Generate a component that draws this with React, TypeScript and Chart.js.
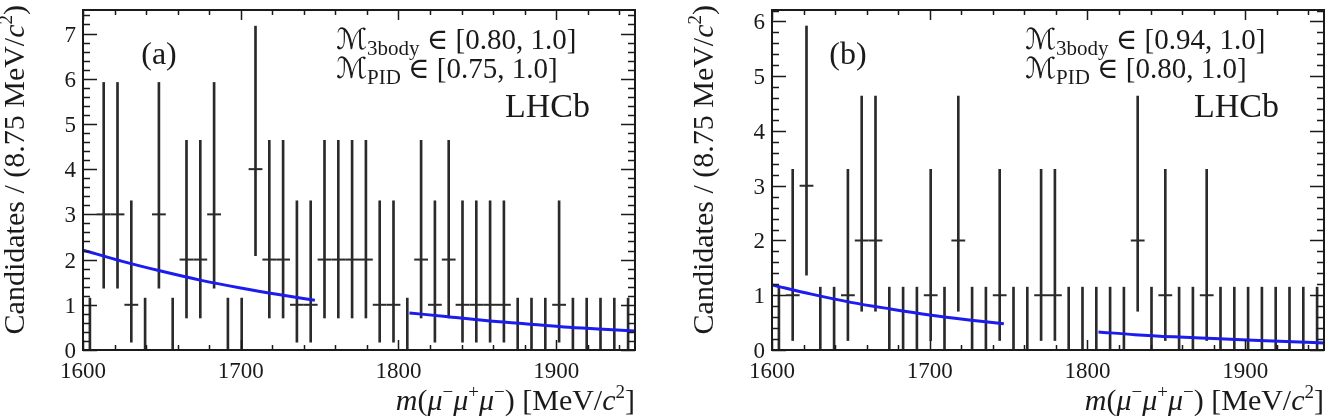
import { useEffect, useRef } from "react";
import { Chart, registerables } from "chart.js";

Chart.register(...registerables);

// Mass window and binning (MeV/c^2)
const MASS_MIN = 1600;
const MASS_MAX = 1950;
const BIN_WIDTH = 8.75;
const X_MINOR_STEP = 20;
const X_MAJOR_STEP = 100;
const Y_MINOR_PER_UNIT = 5;

// Candidates per 8.75 MeV/c^2 bin, first bin starting at 1600 MeV/c^2
const COUNTS_A = [0, 3, 3, 1, 0, 3, 0, 2, 2, 3, 0, 0, 4, 2, 2, 1, 1, 2, 2, 2, 2, 1, 1, 0, 2, 1, 2, 1, 1, 1, 1, 0, 0, 0, 1, 0, 0, 0, 0, 0];
const COUNTS_B = [0, 1, 3, 0, 0, 1, 2, 2, 0, 0, 0, 1, 0, 2, 0, 0, 1, 0, 0, 1, 1, 0, 0, 0, 0, 0, 2, 0, 1, 0, 0, 1, 0, 0, 0, 0, 0, 0, 0, 0];

// Asymmetric Poisson 68% errors, indexed by the bin count
const POISSON_ERR_LOW = [0, 0.827, 1.292, 1.633, 1.914];
const POISSON_ERR_HIGH = [1.148, 2.3, 2.638, 2.918, 3.163];

// Background fit in the two sidebands
const FIT_MASS_LEFT = [1600, 1625, 1650, 1675, 1700, 1725, 1747];
const FIT_MASS_RIGHT = [1807, 1830, 1855, 1880, 1905, 1930, 1950];
const FIT_A_LEFT = [2.21, 1.96, 1.74, 1.54, 1.37, 1.22, 1.1];
const FIT_A_RIGHT = [0.82, 0.74, 0.65, 0.58, 0.51, 0.46, 0.42];
const FIT_B_LEFT = [1.19, 1.02, 0.87, 0.75, 0.64, 0.55, 0.48];
const FIT_B_RIGHT = [0.33, 0.28, 0.24, 0.21, 0.18, 0.15, 0.13];

// Axis labels
const X_TICK_LABELS = ["1600", "1700", "1800", "1900"];
const Y_TICK_LABELS_A = ["0", "1", "2", "3", "4", "5", "6", "7"];
const Y_TICK_LABELS_B = ["0", "1", "2", "3", "4", "5", "6"];
const Y_MAX_A = 7.52;
const Y_MAX_B = 6.21;

const INK = "#1a1a1a";
const BAR_INK = "#2a2a2a";
const FIT_BLUE = "rgb(28, 28, 238)";
const SERIF = '"Liberation Serif", "Times New Roman", "DejaVu Serif", serif';
const MATH = '"Liberation Serif", "DejaVu Serif", "DejaVu Sans", serif';

const CANVAS_W = 666;
const CANVAS_H = 417;

type Run = { text: string; size: number; italic?: boolean; dy?: number; family?: string };

function runFont(r: Run) {
  return `${r.italic ? "italic " : ""}${r.size}px ${r.family ?? SERIF}`;
}

function runsWidth(ctx: CanvasRenderingContext2D, runs: Run[]) {
  let w = 0;
  for (const r of runs) {
    ctx.font = runFont(r);
    w += ctx.measureText(r.text).width;
  }
  return w;
}

function drawRuns(ctx: CanvasRenderingContext2D, runs: Run[], x: number, y: number, align: "left" | "right") {
  let cx = align === "right" ? x - runsWidth(ctx, runs) : x;
  ctx.textAlign = "left";
  ctx.textBaseline = "alphabetic";
  for (const r of runs) {
    ctx.font = runFont(r);
    ctx.fillText(r.text, cx, y + (r.dy ?? 0));
    cx += ctx.measureText(r.text).width;
  }
}

const TITLE = 30;
const SUP = 19;

const X_TITLE: Run[] = [
  { text: "m", size: TITLE, italic: true },
  { text: "(", size: TITLE },
  { text: "μ", size: TITLE, italic: true },
  { text: "−", size: SUP, dy: -12 },
  { text: "μ", size: TITLE, italic: true },
  { text: "+", size: SUP, dy: -12 },
  { text: "μ", size: TITLE, italic: true },
  { text: "−", size: SUP, dy: -12 },
  { text: ") [MeV/", size: TITLE },
  { text: "c", size: TITLE, italic: true },
  { text: "2", size: SUP, dy: -12 },
  { text: "]", size: TITLE },
];

const Y_TITLE: Run[] = [
  { text: "Candidates / (8.75 MeV/", size: TITLE },
  { text: "c", size: TITLE, italic: true },
  { text: "2", size: SUP, dy: -12 },
  { text: ")", size: TITLE },
];

function selectionRuns(sub: string, range: string): Run[] {
  return [
    { text: "ℳ", size: 29, family: MATH },
    { text: sub, size: 21, dy: 6 },
    { text: " ∈ " + range, size: 29, family: MATH },
  ];
}

type PanelSpec = {
  tag: string;
  counts: number[];
  yMax: number;
  yLabels: string[];
  fitLeft: number[];
  fitRight: number[];
  cut3body: string;
  cutPid: string;
  pad: { left: number; right: number; top: number; bottom: number };
  offsetX: number;
};

const PANELS: PanelSpec[] = [
  {
    tag: "(a)",
    counts: COUNTS_A,
    yMax: Y_MAX_A,
    yLabels: Y_TICK_LABELS_A,
    fitLeft: FIT_A_LEFT,
    fitRight: FIT_A_RIGHT,
    cut3body: "[0.80, 1.0]",
    cutPid: "[0.75, 1.0]",
    pad: { left: 83, right: CANVAS_W - 635, top: 10, bottom: CANVAS_H - 350 },
    offsetX: 0,
  },
  {
    tag: "(b)",
    counts: COUNTS_B,
    yMax: Y_MAX_B,
    yLabels: Y_TICK_LABELS_B,
    fitLeft: FIT_B_LEFT,
    fitRight: FIT_B_RIGHT,
    cut3body: "[0.94, 1.0]",
    cutPid: "[0.80, 1.0]",
    pad: { left: 106, right: CANVAS_W - 658, top: 10, bottom: CANVAS_H - 350 },
    offsetX: 666,
  },
];

// Frame with inward ticks on all four sides, tick labels, titles and annotations
const hepFrame = {
  id: "hepFrame",
  afterDatasetsDraw(chart: any, _args: any, opts: any) {
    const spec: PanelSpec = opts.spec;
    const ctx: CanvasRenderingContext2D = chart.ctx;
    const { left, right, top, bottom } = chart.chartArea;
    const xs = chart.scales.x;
    const ys = chart.scales.y;
    ctx.save();
    ctx.strokeStyle = INK;
    ctx.fillStyle = INK;

    // ticks
    ctx.lineWidth = 1.5;
    ctx.beginPath();
    for (let m = MASS_MIN; m <= MASS_MAX; m += X_MINOR_STEP) {
      const px = Math.round(xs.getPixelForValue(m)) + 0.5;
      const len = (m - MASS_MIN) % X_MAJOR_STEP === 0 ? 10 : 5;
      ctx.moveTo(px, bottom);
      ctx.lineTo(px, bottom - len);
      ctx.moveTo(px, top);
      ctx.lineTo(px, top + len);
    }
    for (let k = 0; k / Y_MINOR_PER_UNIT <= spec.yMax; k++) {
      const py = Math.round(ys.getPixelForValue(k / Y_MINOR_PER_UNIT)) + 0.5;
      const len = k % Y_MINOR_PER_UNIT === 0 ? 14 : 7;
      ctx.moveTo(left, py);
      ctx.lineTo(left + len, py);
      ctx.moveTo(right, py);
      ctx.lineTo(right - len, py);
    }
    ctx.stroke();

    // frame
    ctx.lineWidth = 2;
    ctx.strokeRect(left, top, right - left, bottom - top);

    // tick labels
    ctx.font = `23px ${SERIF}`;
    ctx.textAlign = "right";
    ctx.textBaseline = "alphabetic";
    spec.yLabels.forEach((lab) => {
      const py = ys.getPixelForValue(Number(lab));
      ctx.fillText(lab, left - 7, py + 8);
    });
    ctx.textAlign = "center";
    X_TICK_LABELS.forEach((lab) => {
      ctx.fillText(lab, xs.getPixelForValue(Number(lab)), 378);
    });

    // axis titles
    drawRuns(ctx, X_TITLE, right, 410, "right");
    ctx.save();
    ctx.translate(left - 59, top - 5);
    ctx.rotate(-Math.PI / 2);
    drawRuns(ctx, Y_TITLE, 0, 0, "right");
    ctx.restore();

    // panel tag, selection and experiment label
    ctx.font = `32px ${SERIF}`;
    ctx.textAlign = "center";
    ctx.fillText(spec.tag, left + 76, 64);
    drawRuns(ctx, selectionRuns("3body", spec.cut3body), left + 253, 49, "left");
    drawRuns(ctx, selectionRuns("PID", spec.cutPid), left + 253, 78, "left");
    ctx.font = `34px ${SERIF}`;
    ctx.textAlign = "right";
    ctx.fillText("LHCb", right - 45, 117);
    ctx.restore();
  },
};

function Panel({ spec }: { spec: PanelSpec }) {
  const ref = useRef<HTMLCanvasElement | null>(null);

  useEffect(() => {
    if (!ref.current) return;
    const centers = spec.counts.map((_, i) => MASS_MIN + BIN_WIDTH * (i + 0.5));
    const errorBars = spec.counts.map((n, i) => ({
      x: centers[i],
      y: [n - POISSON_ERR_LOW[n], n + POISSON_ERR_HIGH[n]],
    }));
    const markers = spec.counts.map((n, i) => ({ x: centers[i], y: n > 0 ? n : null }));
    const halfBin = (c: any) => {
      const s = c.chart.scales.x;
      return Math.abs(s.getPixelForValue(MASS_MIN + BIN_WIDTH) - s.getPixelForValue(MASS_MIN)) / 2;
    };

    const chart = new Chart(ref.current, {
      type: "bar",
      data: {
        datasets: [
          {
            type: "line",
            data: FIT_MASS_LEFT.map((m, i) => ({ x: m, y: spec.fitLeft[i] })),
            borderColor: FIT_BLUE,
            borderWidth: 3,
            pointRadius: 0,
            cubicInterpolationMode: "monotone",
            order: 0,
          },
          {
            type: "line",
            data: FIT_MASS_RIGHT.map((m, i) => ({ x: m, y: spec.fitRight[i] })),
            borderColor: FIT_BLUE,
            borderWidth: 3,
            pointRadius: 0,
            cubicInterpolationMode: "monotone",
            order: 0,
          },
          {
            type: "line",
            data: markers as any,
            showLine: false,
            pointStyle: "line",
            pointRadius: halfBin,
            pointBorderWidth: 2,
            pointBorderColor: BAR_INK,
            borderColor: BAR_INK,
            order: 1,
          },
          {
            type: "bar",
            data: errorBars as any,
            backgroundColor: BAR_INK,
            barThickness: 2,
            borderWidth: 0,
            order: 2,
          },
        ] as any,
      },
      options: {
        animation: false,
        responsive: false,
        devicePixelRatio: 1,
        events: [],
        layout: { padding: spec.pad },
        scales: {
          x: { type: "linear", min: MASS_MIN, max: MASS_MAX, offset: false, display: false },
          y: { type: "linear", min: 0, max: spec.yMax, display: false },
        },
        plugins: {
          legend: { display: false },
          tooltip: { enabled: false },
          hepFrame: { spec },
        } as any,
      },
      plugins: [hepFrame],
    });
    return () => chart.destroy();
  }, [spec]);

  return (
    <canvas
      ref={ref}
      width={CANVAS_W}
      height={CANVAS_H}
      style={{ position: "absolute", left: spec.offsetX, top: 0, width: CANVAS_W, height: CANVAS_H }}
    />
  );
}

export default function App() {
  return (
    <div style={{ position: "absolute", left: 0, top: 0, width: 1332, height: 417, background: "#fff" }}>
      {PANELS.map((p) => (
        <Panel key={p.tag} spec={p} />
      ))}
    </div>
  );
}
